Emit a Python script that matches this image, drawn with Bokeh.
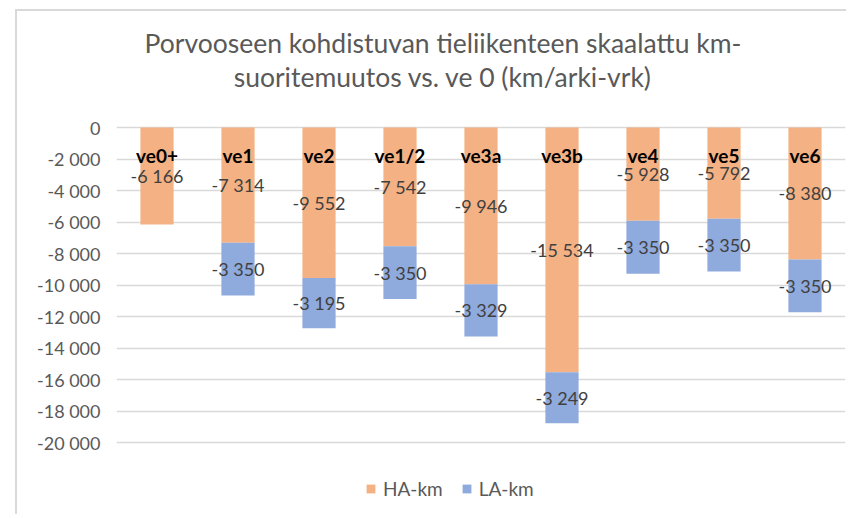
from bokeh.plotting import figure
from bokeh.models import (FactorRange, Range1d, FixedTicker, Label, Legend,
                          LegendItem, ColumnDataSource)
from bokeh.core.properties import value
from bokeh.embed import file_html
from bokeh.resources import INLINE

# ---- data ----
categories = ["ve0+", "ve1", "ve2", "ve1/2", "ve3a", "ve3b", "ve4", "ve5", "ve6"]
ha_km = [-6166, -7314, -9552, -7542, -9946, -15534, -5928, -5792, -8380]
la_km = [0, -3350, -3195, -3350, -3329, -3249, -3350, -3350, -3350]
y_ticks = [0, -2000, -4000, -6000, -8000, -10000, -12000, -14000, -16000, -18000, -20000]
y_tick_labels = ["0", "-2 000", "-4 000", "-6 000", "-8 000", "-10 000", "-12 000",
                 "-14 000", "-16 000", "-18 000", "-20 000"]
title_lines = ["Porvooseen kohdistuvan tieliikenteen skaalattu km-",
               "suoritemuutos vs. ve 0 (km/arki-vrk)"]

HA_COLOR = "#F4B183"
LA_COLOR = "#8FAADC"
FRAME_COLOR = "#d9d9d9"
FONT = "Lato"

# layout (pixels)
W, H = 846, 514
LEFT, RIGHT, TOP, BOTTOM = 116, 1, 0, 0
PX_PER_UNIT = 15.75 / 1000.0        # vertical scale of the value axis
ZERO_PX = 127                       # distance of the 0-line below the frame top

frame_h = H - TOP - BOTTOM
y_end = ZERO_PX / PX_PER_UNIT
y_start = y_end - frame_h / PX_PER_UNIT


def fmt(v):
    return f"{v:,}".replace(",", " ")


la_top = [h + l for h, l in zip(ha_km, la_km)]

src = ColumnDataSource(dict(
    cat=categories, ha=ha_km, zero=[0] * len(categories),
    la_bot=ha_km, la_top=la_top,
))

p = figure(
    x_range=FactorRange(*categories),
    y_range=Range1d(y_start, y_end),
    width=W, height=H,
    output_backend="svg", toolbar_location=None,
    x_axis_location=None, title_location=None,
    min_border_left=LEFT, min_border_right=RIGHT,
    min_border_top=TOP, min_border_bottom=BOTTOM,
)
# light chart-area frame (left and top edges) painted behind a transparent canvas
p.styles = {
    "background": (f"linear-gradient({FRAME_COLOR},{FRAME_COLOR}) 15px 9px / 2px 100% no-repeat, "
                   f"linear-gradient({FRAME_COLOR},{FRAME_COLOR}) 15px 9px / 100% 2px no-repeat, "
                   "white"),
}
p.outline_line_color = None
p.background_fill_alpha = 0
p.border_fill_alpha = 0

r_ha = p.vbar(x="cat", top="zero", bottom="ha", width=0.41, source=src,
              fill_color=HA_COLOR, line_color=None)
r_la = p.vbar(x="cat", top="la_bot", bottom="la_top", width=0.41, source=src,
              fill_color=LA_COLOR, line_color=None)

# y axis
p.yaxis.ticker = FixedTicker(ticks=y_ticks)
p.yaxis.major_label_overrides = {t: l for t, l in zip(y_ticks, y_tick_labels)}
p.yaxis.axis_line_color = None
p.yaxis.major_tick_line_color = None
p.yaxis.minor_tick_line_color = None
p.yaxis.major_tick_out = 0
p.yaxis.major_tick_in = 0
p.yaxis.major_label_text_font = FONT
p.yaxis.major_label_text_font_size = "18px"
p.yaxis.major_label_text_color = "#595959"
p.yaxis.major_label_standoff = 16
p.xgrid.visible = False
p.ygrid.ticker = FixedTicker(ticks=y_ticks)
p.ygrid.grid_line_color = FRAME_COLOR
p.ygrid.grid_line_width = 1.5

# category labels (inside the chart, near the top)
cat_y = [-1750] * len(categories)
p.text(x=categories, y=cat_y, text=categories, text_align="center",
       text_baseline="middle", text_font=value(FONT), text_font_style="bold",
       text_font_size="19px", text_color="black")

# value labels, centred in each segment
ha_mid = [h / 2 for h in ha_km]
p.text(x=categories, y=ha_mid, text=[fmt(v) for v in ha_km], text_align="center",
       text_baseline="middle", text_font=value(FONT), text_font_size="18px",
       text_color="#404040")
la_cats = [c for c, l in zip(categories, la_km) if l != 0]
la_mid = [h + l / 2 for h, l in zip(ha_km, la_km) if l != 0]
la_txt = [fmt(l) for l in la_km if l != 0]
p.text(x=la_cats, y=la_mid, text=la_txt, text_align="center",
       text_baseline="middle", text_font=value(FONT), text_font_size="18px",
       text_color="#404040")

# title (two centred lines)
for txt, off in zip(title_lines, [85, 51]):
    p.add_layout(Label(x=4.03, y=off / PX_PER_UNIT, text=txt, text_align="center",
                       text_baseline="alphabetic", text_font=FONT,
                       text_font_size="26.5px", text_color="#595959"))

legend = Legend(items=[LegendItem(label="HA-km", renderers=[r_ha]),
                       LegendItem(label="LA-km", renderers=[r_la])],
                orientation="horizontal", location=(249, 14),
                label_text_font=FONT, label_text_font_size="19px",
                label_text_color="#595959", glyph_width=11, glyph_height=11,
                label_standoff=7, spacing=18, padding=0, margin=0,
                border_line_color=None, background_fill_alpha=0)
p.add_layout(legend, "center")

open("out.html", "w").write(file_html(p, INLINE))
